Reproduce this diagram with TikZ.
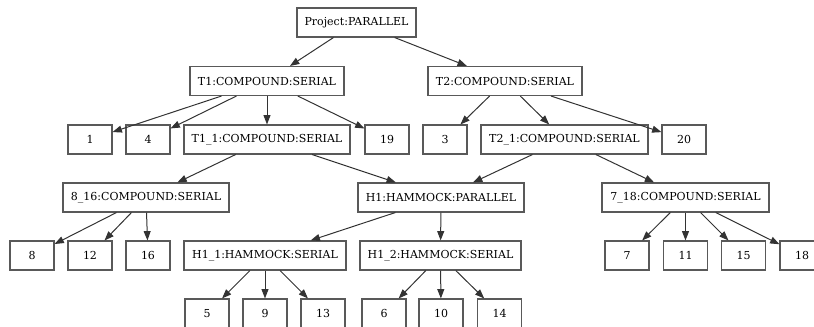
\documentclass[tikz,border=0pt]{standalone}
\usepackage{fontspec}
\setmainfont{DejaVu Serif}
\usetikzlibrary{arrows.meta}
\newdimen\px \px=0.75pt
\tikzset{
  box/.style={draw=black!65, line width=0.8pt, inner sep=0pt, minimum height=29\px,
    font=\fontsize{8.25}{10}\selectfont, text=black},
  sbox/.style={box, minimum width=44\px},
  edge/.style={draw=black!80, line width=0.75pt, -{Triangle[length=7pt,width=5.2pt]}},
}
\begin{document}
\begin{tikzpicture}[x=0.75pt,y=-0.75pt]
\useasboundingbox (0,0) rectangle (814,327);
\clip (0,0) rectangle (814,327);
% row 0
\node[box, minimum width=119\px] (P) at (356.5,22.5) {Project:PARALLEL};
% row 1
\node[box, minimum width=154\px] (T1) at (267,81) {T1:COMPOUND:SERIAL};
\node[box, minimum width=154\px] (T2) at (505,81) {T2:COMPOUND:SERIAL};
% row 2
\node[sbox] (n1) at (90,139.5) {1};
\node[sbox] (n4) at (148,139.5) {4};
\node[box, minimum width=166\px] (T11) at (267,139.5) {T1\_1:COMPOUND:SERIAL};
\node[sbox] (n19) at (387,139.5) {19};
\node[sbox] (n3) at (445,139.5) {3};
\node[box, minimum width=167\px] (T21) at (564.5,139.5) {T2\_1:COMPOUND:SERIAL};
\node[sbox] (n20) at (684,139.5) {20};
% row 3
\node[box, minimum width=166\px] (C816) at (146,197.5) {8\_16:COMPOUND:SERIAL};
\node[box, minimum width=166\px] (H1) at (441,197.5) {H1:HAMMOCK:PARALLEL};
\node[box, minimum width=167\px] (C718) at (685.5,197.5) {7\_18:COMPOUND:SERIAL};
% row 4
\node[sbox] (n8) at (32,255.5) {8};
\node[sbox] (n12) at (90,255.5) {12};
\node[sbox] (n16) at (148,255.5) {16};
\node[box, minimum width=162\px] (H11) at (265,255.5) {H1\_1:HAMMOCK:SERIAL};
\node[box, minimum width=161\px] (H12) at (440.5,255.5) {H1\_2:HAMMOCK:SERIAL};
\node[sbox] (n7) at (627,255.5) {7};
\node[sbox] (n11) at (685.5,255.5) {11};
\node[sbox] (n15) at (743.5,255.5) {15};
\node[sbox] (n18) at (802,255.5) {18};
% row 5
\node[sbox] (n5) at (207,313.5) {5};
\node[sbox] (n9) at (265,313.5) {9};
\node[sbox] (n13) at (323,313.5) {13};
\node[sbox] (n6) at (384,313.5) {6};
\node[sbox] (n10) at (441,313.5) {10};
\node[sbox] (n14) at (499.5,313.5) {14};
% edges
\draw[edge] (P) -- (T1);
\draw[edge] (P) -- (T2);
\draw[edge] (T1) -- (n1);
\draw[edge] (T1) -- (n4);
\draw[edge] (T1) -- (T11);
\draw[edge] (T1) -- (n19);
\draw[edge] (T2) -- (n3);
\draw[edge] (T2) -- (T21);
\draw[edge] (T2) -- (n20);
\draw[edge] (T11) -- (C816);
\draw[edge] (T11) -- (H1);
\draw[edge] (T21) -- (H1);
\draw[edge] (T21) -- (C718);
\draw[edge] (C816) -- (n8);
\draw[edge] (C816) -- (n12);
\draw[edge] (C816) -- (n16);
\draw[edge] (H1) -- (H11);
\draw[edge] (H1) -- (H12);
\draw[edge] (C718) -- (n7);
\draw[edge] (C718) -- (n11);
\draw[edge] (C718) -- (n15);
\draw[edge] (C718) -- (n18);
\draw[edge] (H11) -- (n5);
\draw[edge] (H11) -- (n9);
\draw[edge] (H11) -- (n13);
\draw[edge] (H12) -- (n6);
\draw[edge] (H12) -- (n10);
\draw[edge] (H12) -- (n14);
\end{tikzpicture}
\end{document}
